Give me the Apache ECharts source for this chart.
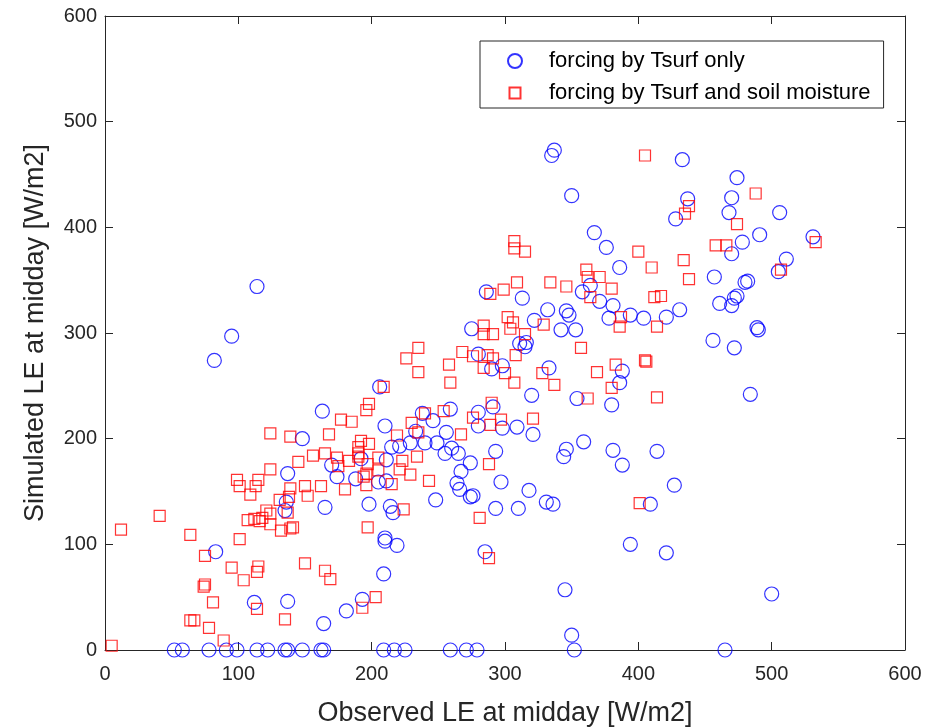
<!DOCTYPE html>
<html>
<head>
<meta charset="utf-8">
<script src="https://cdn.jsdelivr.net/npm/echarts@6/dist/echarts.min.js"></script>
<style>html,body{margin:0;padding:0;background:#fff}#c{width:931px;height:728px}</style>
</head>
<body>
<div id="c"></div>
<script>
// Axis ticks
const xTicks = [0, 100, 200, 300, 400, 500, 600];
const yTicks = [0, 100, 200, 300, 400, 500, 600];
const seriesNames = ['forcing by Tsurf only', 'forcing by Tsurf and soil moisture'];

// Series 1: forcing by Tsurf only [observed, simulated]
const tsurfOnly = [
  [335,468],[337,473],[350,430],[433,464],[474,447],[437,427],[470,428],[428,408],[468,414],[506,414],
  [491,393],[478,386],[470,375],[531,391],[511,370],[505,358],[367,395],[376,381],[386,362],[457,353],
  [480,348],[482,349],[474,335],[472,333],[470,326],[461,328],[431,322],[421,315],[404,314],[489,305],
  [364,345],[358,339],[371,330],[381,326],[378,314],[394,317],[286,339],[313,333],[332,322],[346,321],
  [348,317],[322,312],[275,304],[342,303],[353,303],[490,303],[456,293],[472,286],[484,242],
  [114,344],[95,297],[82,274],[163,226],[148,200],
  [280,280],[290,266],[206,249],[259,228],[280,225],[291,230],[280,212],[238,224],[246,217],[210,212],
  [233,207],[256,206],[311,290],[315,287],[316,291],[298,269],[333,267],[388,264],[386,253],[320,241],
  [354,238],[380,232],[298,210],[309,211],[321,204],[359,197],[346,190],[381,189],[414,188],[293,188],
  [274,177],[344,183],[388,175],[297,159],[276,146],[318,151],[331,140],[336,138],[293,134],[310,134],
  [409,138],[427,156],[394,100],[421,92],[285,93],
  [215,192],[221,193],[229,196],[240,196],[249,196],[255,186],[260,191],[265,186],[211,180],[192,181],
  [170,175],[174,164],[188,162],[205,159],[211,160],[264,158],[266,152],[274,145],[267,169],[248,142],
  [165,135],[198,138],[214,136],[216,130],[210,106],[210,103],[219,99],
  [83,93],[137,167],[136,140],[135,132],
  [209,72],[112,45],[137,46],[164,25],[181,37],[193,48],[350,14],[345,57],[500,53],
  [52,0],[58,0],[78,0],[91,0],[99,0],[114,0],[122,0],[135,0],[137,0],[148,0],[162,0],[164,0],
  [209,0],[217,0],[225,0],[259,0],[271,0],[279,0],[352,0],[465,0]
];

// Series 2: forcing by Tsurf and soil moisture [observed, simulated]
const tsurfSoil = [
  [405,468],[488,432],[438,420],[435,413],[474,403],[458,383],[466,383],[533,386],[507,360],[434,369],
  [410,362],[438,351],[412,334],[417,335],[414,306],[400,377],
  [307,387],[307,380],[315,377],[361,360],[362,353],[371,353],[380,342],[364,334],[387,315],[386,306],
  [289,337],[299,341],[309,348],[334,348],[346,344],[302,315],[306,310],[304,304],[284,307],[329,308],
  [284,299],[291,299],[315,299],[235,286],[226,276],[235,263],[268,282],[276,278],[287,279],[291,276],
  [284,267],[258,270],[259,253],[209,249],[198,233],[196,227],[177,218],[185,216],[168,204],[254,226],
  [276,220],[290,234],[289,213],[240,224],[230,215],[235,206],[267,204],[219,203],[190,192],[198,195],
  [192,198],[124,205],[139,202],
  [308,279],[300,262],[307,253],[328,262],[337,251],[357,286],[383,270],[369,263],[380,248],[362,238],
  [405,274],[406,273],[414,239],[297,218],[321,219],
  [288,176],[281,125],[401,139],[288,87],
  [145,178],[156,184],[165,186],[174,182],[175,174],[183,179],[190,186],[190,183],[197,176],[194,164],
  [196,167],[196,156],[205,182],[205,170],[223,179],[221,171],[215,157],[229,166],[234,183],[243,160],
  [224,133],[197,116],[150,155],[152,146],[162,155],[180,152],[141,116],
  [12,114],[41,127],[64,109],[101,105],[75,89],[99,161],[101,155],[109,147],[113,155],[115,161],
  [124,171],[139,153],[131,142],[138,145],[137,130],[107,123],[112,124],[116,122],[118,125],[121,132],
  [124,129],[124,119],[132,113],[139,115],
  [5,4],[95,78],[104,66],[115,79],[114,74],[150,82],[165,75],[169,67],[74,60],[75,62],
  [81,45],[114,39],[135,29],[193,40],[203,50],[64,28],[67,28],[78,21],[89,9]
];

const FONT = 'Liberation Sans, Arial, sans-serif';
const AXC = '#262626';
const xMin = xTicks[0], xMax = xTicks[xTicks.length - 1], xInt = xTicks[1] - xTicks[0];
const yMin = yTicks[0], yMax = yTicks[yTicks.length - 1], yInt = yTicks[1] - yTicks[0];

function axisBase(extra, labelMargin) {
  return Object.assign({
    type: 'value',
    axisLine: { show: true, onZero: false, lineStyle: { color: AXC, width: 1 } },
    axisTick: { show: true, inside: true, length: 8, lineStyle: { color: AXC, width: 1 } },
    splitLine: { show: false },
    axisLabel: { color: AXC, fontSize: 20, fontFamily: FONT, margin: labelMargin || 8 }
  }, extra);
}

const chart = echarts.init(document.getElementById('c'), null, { renderer: 'canvas' });
chart.setOption({
  animation: false,
  backgroundColor: '#ffffff',
  grid: { left: 105, right: 26, top: 16, bottom: 78, containLabel: false, outerBoundsMode: 'none' },
  xAxis: [
    axisBase({ position: 'bottom', min: xMin, max: xMax, interval: xInt,
      name: 'Observed LE at midday [W/m2]', nameLocation: 'middle', nameGap: 50,
      nameTextStyle: { color: AXC, fontSize: 27, fontFamily: FONT } }, 14),
    axisBase({ position: 'top', min: xMin, max: xMax, interval: xInt, axisLabel: { show: false } })
  ],
  yAxis: [
    axisBase({ position: 'left', min: yMin, max: yMax, interval: yInt,
      name: 'Simulated LE at midday [W/m2]', nameLocation: 'middle', nameGap: 56,
      nameTextStyle: { color: AXC, fontSize: 27, fontFamily: FONT } }, 8),
    axisBase({ position: 'right', min: yMin, max: yMax, interval: yInt, axisLabel: { show: false } })
  ],
  legend: {
    orient: 'vertical',
    left: 480, top: 41,
    backgroundColor: '#ffffff',
    borderColor: AXC, borderWidth: 1,
    padding: [8, 13, 3, 5],
    itemGap: 8,
    itemWidth: 58, itemHeight: 14,
    textStyle: { color: '#000', fontSize: 22, fontFamily: FONT, lineHeight: 24 },
    data: [
      { name: seriesNames[0], icon: 'circle' },
      { name: seriesNames[1], icon: 'path://M0,0M58,14M23.5,1.5L34.5,1.5L34.5,12.5L23.5,12.5Z' }
    ]
  },
  series: [
    {
      name: seriesNames[0], type: 'scatter', data: tsurfOnly,
      symbol: 'circle', symbolSize: 14,
      itemStyle: { color: 'rgba(0,0,0,0)', borderColor: '#0000ff', borderWidth: 1.2 },
      z: 3
    },
    {
      name: seriesNames[1], type: 'scatter', data: tsurfSoil,
      symbol: 'rect', symbolSize: 11,
      itemStyle: { color: 'rgba(0,0,0,0)', borderColor: '#ff0000', borderWidth: 1.2 },
      z: 4
    }
  ]
});
</script>
</body>
</html>
